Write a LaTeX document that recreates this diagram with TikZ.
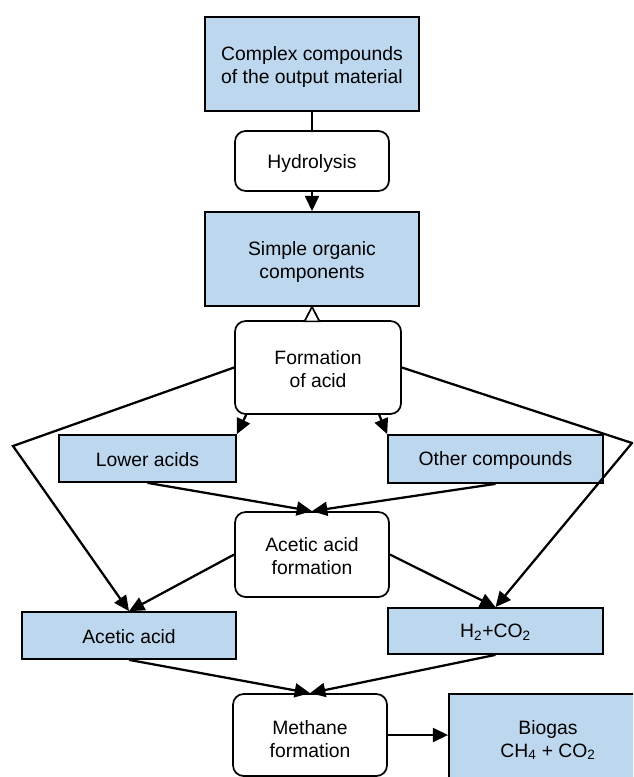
\documentclass[tikz,border=0pt]{standalone}
\usepackage{fontspec}
\setmainfont{Liberation Sans}
\usetikzlibrary{arrows.meta,calc}
\definecolor{boxblue}{RGB}{189,215,238}
\tikzset{
  txt/.style={font=\fontsize{14.5pt}{17.2pt}\selectfont, align=center, inner sep=0pt},
  bluebox/.style={draw=black, line width=1.3pt, fill=boxblue, rectangle, inner sep=0pt},
  stagebox/.style={draw=black, line width=1.3pt, fill=white, rounded corners=8pt, rectangle, inner sep=0pt},
  conn/.style={line width=1.7pt, draw=black},
  arr/.style={conn, -{Triangle[length=11.5pt,width=10.5pt]}},
  opentip/.style={draw=black, line width=1.3pt, fill=white, line join=miter},
}
\begin{document}
\begin{tikzpicture}[x=0.75pt,y=-0.75pt]
\clip (0,0) rectangle (633,777);
\fill[white] (0,0) rectangle (633,777);
% boxes
\node[bluebox, minimum width=160.5pt, minimum height=70.5pt] (complex) at (312,64) {};
\node[stagebox, minimum width=115.5pt, minimum height=45pt] (hydro) at (312,161) {};
\node[bluebox, minimum width=160.5pt, minimum height=70.5pt] (simple) at (312,259) {};
\node[stagebox, minimum width=124.5pt, minimum height=69.75pt] (formation) at (318,367.5) {};
\node[bluebox, minimum width=132.75pt, minimum height=35.25pt] (lower) at (147.5,458.5) {};
\node[bluebox, minimum width=161.25pt, minimum height=36pt] (other) at (495.5,459) {};
\node[stagebox, minimum width=115.5pt, minimum height=63.75pt] (aceticform) at (312,554.5) {};
\node[bluebox, minimum width=160.5pt, minimum height=35.25pt] (acetic) at (129,635.5) {};
\node[bluebox, minimum width=161.25pt, minimum height=34.5pt] (h2) at (495.5,631) {};
\node[stagebox, minimum width=115.5pt, minimum height=61.5pt] (methane) at (310,735) {};
\node[bluebox, minimum width=148.5pt, minimum height=64.5pt] (biogas) at (548,737) {};
% texts
\node[txt] (complext) at ($(complex.center)+(0,3)$) {Complex compounds\\of the output material};
\node[txt] (hydrot) at ($(hydro.center)+(0,3)$) {Hydrolysis};
\node[txt] (simplet) at ($(simple.center)+(0,3)$) {Simple organic\\components};
\node[txt] (formationt) at ($(formation.center)+(0,2)$) {Formation\\of acid};
\node[txt] (lowert) at ($(lower.center)+(0,1)$) {Lower acids};
\node[txt] (othert) at ($(other.center)+(0,1)$) {Other compounds};
\node[txt] (aceticformt) at ($(aceticform.center)+(0,2)$) {Acetic acid\\formation};
\node[txt] (acetict) at ($(acetic.center)+(0,1)$) {Acetic acid};
\node[txt] (h2t) at ($(h2.center)+(0,1)$) {H\textsubscript{2}+CO\textsubscript{2}};
\node[txt] (methanet) at ($(methane.center)+(0,4)$) {Methane\\formation};
\node[txt] (biogast) at ($(biogas.center)+(0,3)$) {Biogas\\CH\textsubscript{4} + CO\textsubscript{2}};
% bend points
\coordinate (bendL) at (13,446);
\coordinate (bendR) at (632,443);
% connectors
\draw[conn] (complex.south) -- (hydro.north);
\draw[arr] (hydro.south) -- (simple.north);
\draw[opentip] (simple.south) -- ($(simple.south)+(-7.5,14.5)$) -- ($(simple.south)+(7.5,14.5)$) -- cycle;
\draw[arr] ([xshift=9pt]formation.south west) -- (lower.north east);
\draw[arr] ([xshift=-17pt]formation.south east) -- (other.north west);
\draw[arr] (formation.west) -- (bendL) -- (acetic.north);
\draw[arr] (formation.east) -- (bendR) -- (h2.north);
\draw[arr] (lower.south) -- (aceticform.north);
\draw[arr] (other.south) -- (aceticform.north);
\draw[arr] (aceticform.west) -- (acetic.north);
\draw[arr] (aceticform.east) -- (h2.north);
\draw[arr] (acetic.south) -- (methane.north);
\draw[arr] (h2.south) -- (methane.north);
\draw[arr] (methane.east) -- (methane.east -| biogas.west);
\end{tikzpicture}
\end{document}
